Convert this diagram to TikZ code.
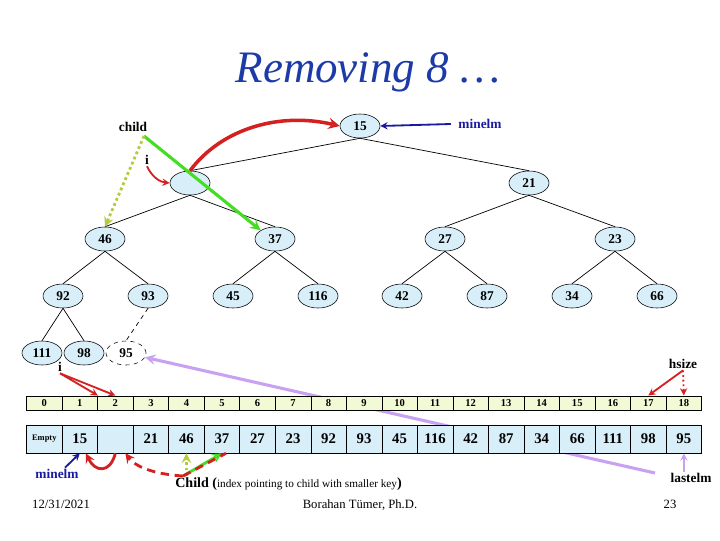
\documentclass[tikz,border=0pt]{standalone}
\usepackage{fontspec}
\setmainfont{Liberation Serif}
\usetikzlibrary{shapes.geometric}
\definecolor{heapblue}{HTML}{D8EFFA}
\definecolor{idxyellow}{HTML}{F2F9D5}
\definecolor{titleblue}{HTML}{1C3AA8}
\definecolor{arrowred}{HTML}{D42020}
\definecolor{minblue}{HTML}{1A1AA0}
\definecolor{childgreen}{HTML}{44DD22}
\definecolor{childolive}{HTML}{B4CC3C}
\definecolor{lastlav}{HTML}{C8A2F0}
\begin{document}
\begin{tikzpicture}[x=0.025cm,y=-0.025cm,>=stealth,
    heapnode/.style={draw,ellipse,fill=heapblue,inner sep=0pt,minimum width=1cm,minimum height=0.6cm,font=\fontsize{9.5}{10}\selectfont\bfseries},
    idxcell/.style={draw,fill=idxyellow,inner sep=0pt,minimum width=0.888cm,minimum height=0.36cm,font=\fontsize{7.5}{8}\selectfont\bfseries},
    valcell/.style={draw,fill=heapblue,inner sep=0pt,minimum width=0.888cm,minimum height=0.7cm,font=\fontsize{10.5}{11}\selectfont\bfseries},
    tag/.style={inner sep=1pt,font=\fontsize{9.5}{10}\selectfont\bfseries},
    footer/.style={inner sep=0pt,anchor=base,font=\fontsize{9}{10}\selectfont}]
    \useasboundingbox (0,0) rectangle (720,540);
    \node[anchor=base,text=titleblue,font=\fontsize{32}{36}\selectfont\itshape] (title) at (368,82) {Removing 8 \dots};
    % the heap as a tree
    \node[heapnode] (n15) at (360,126) {15};
    \node[heapnode] (hole) at (190,183) {};
    \node[heapnode] (n21) at (529,183) {21};
    \node[heapnode] (n46) at (105,239) {46};
    \node[heapnode] (n37) at (275,239) {37};
    \node[heapnode] (n27) at (445,239) {27};
    \node[heapnode] (n23) at (615,239) {23};
    \node[heapnode] (n92) at (63,296) {92};
    \node[heapnode] (n93) at (148,296) {93};
    \node[heapnode] (n45) at (233,296) {45};
    \node[heapnode] (n116) at (318,296) {116};
    \node[heapnode] (n42) at (402,296) {42};
    \node[heapnode] (n87) at (487,296) {87};
    \node[heapnode] (n34) at (572,296) {34};
    \node[heapnode] (n66) at (657,296) {66};
    \node[heapnode] (n111) at (42,353) {111};
    \node[heapnode] (n98) at (84,353) {98};
    \node[heapnode,fill=white,dashed] (n95) at (126,353) {95};
    \foreach \p/\c in {n15/hole,n15/n21,hole/n46,hole/n37,n21/n27,n21/n23,n46/n92,n46/n93,n37/n45,n37/n116,n27/n42,n27/n87,n23/n34,n23/n66,n92/n111,n92/n98}
        \draw[line width=0.5pt] (\p.south) -- (\c.north);
    \draw[line width=0.5pt,dashed] (n93.south) -- (n95.north);
    % labels
    \node[tag] (lblchild) at (133,127) {child};
    \node[tag] (lbli) at (147,160) {i};
    \node[tag,text=minblue] (lblmin) at (480,124) {minelm};
    \node[tag] (lblhsize) at (683,364) {hsize};
    \node[tag] (lbli2) at (60,367) {i};
    \node[tag,text=minblue] (lblmin2) at (57,474) {minelm};
    \node[tag] (lbllast) at (691,478) {lastelm};
    \coordinate (lavfrom) at (655,473);
    \draw[lastlav,line width=2.2pt,->] (lavfrom) -- (n95);
    % the array
    \foreach \k in {0,...,18}
        \node[idxcell] (i\k) at (44.3+35.53*\k,403) {\k};
    \foreach \val [count=\k from 0] in {{\fontsize{6}{6}\selectfont Empty},15,{},21,46,37,27,23,92,93,45,116,42,87,34,66,111,98,95}
        \node[valcell] (v\k) at (44.3+35.53*\k,439) {\val};
    \node[inner sep=0pt,anchor=base west] (lblchildidx) at (175,487) {{\fontsize{10}{11}\selectfont\bfseries Child (}{\fontsize{8}{9}\selectfont index pointing to child with smaller key}{\fontsize{10}{11}\selectfont\bfseries )}};
    \coordinate (childpt) at (183,476);
    \coordinate (childfoot) at (144,136);
    % arrows
    \draw[minblue,line width=1.3pt,->] ([xshift=-0.15cm]lblmin.west) -- (n15.east);
    \draw[arrowred,line width=2.5pt,->] (hole.north) .. controls (222,128) and (280,112) .. (n15.west);
    \draw[arrowred,line width=1.3pt,->] (lbli.south) .. controls (152,177) and (160,182) .. (hole.west);
    \draw[childgreen,line width=2.2pt,->] (childfoot) -- (n37.north west);
    \draw[childolive,line width=2pt,dotted,->] (childfoot) -- (n46.north);
    \draw[arrowred,line width=1.3pt,->] (lbli2.south) -- (i1.north east);
    \draw[arrowred,line width=1.3pt,->] (lbli2.south) -- (i2.north);
    \draw[arrowred,line width=1.3pt,->] (lblhsize.south) -- (i17.north);
    \draw[arrowred,line width=1.3pt,dotted,->] (lblhsize.south) -- (i18.north);
    \draw[lastlav,line width=1.3pt,->] (v18.south |- lbllast.north) -- (v18.south);
    \draw[minblue,line width=1.3pt,->] ([xshift=0.2cm]lblmin2.north) -- (v1.south);
    \draw[arrowred,line width=2pt,->] (v2.south) .. controls (110,474) and (95,472) .. ([xshift=0.15cm]v1.south);
    \draw[arrowred,line width=2pt,dash pattern=on 6pt off 4pt,->] (childpt) .. controls (152,474) and (135,466) .. ([xshift=0.25cm]v2.south);
    \draw[childolive,line width=2pt,dotted,->] (v4.south |- childpt) -- (v4.south);
    \draw[childgreen,line width=2pt,->] (childpt) -- (v5.south);
    \draw[arrowred,line width=2pt,dash pattern=on 6pt off 4pt] (childpt) -- ([xshift=0.1cm]v5.south);
    % footer
    \node[footer] (date) at (61,508) {12/31/2021};
    \node[footer] (author) at (360,508) {Borahan Tümer, Ph.D.};
    \node[footer] (page) at (670,508) {23};
\end{tikzpicture}
\end{document}
